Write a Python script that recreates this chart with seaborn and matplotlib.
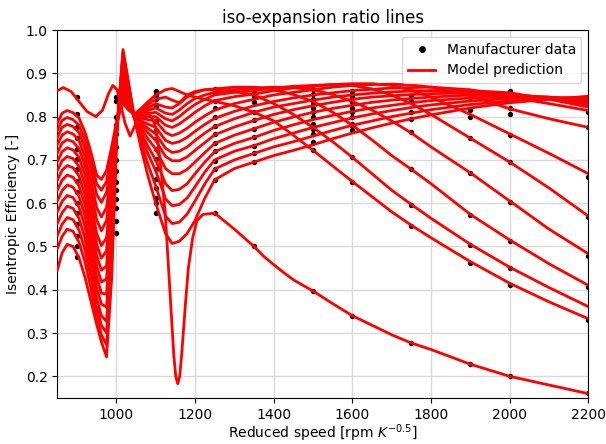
import numpy as np
import pandas as pd
import matplotlib
matplotlib.use("Agg")
import matplotlib.pyplot as plt
import seaborn as sns
from matplotlib.lines import Line2D

# ---------------- data ----------------
speed_left = [850, 862, 875, 890, 905, 920, 935, 950, 962, 975, 988, 1001, 1017, 1031, 1045, 1062, 1080]
speed_right = [1100, 1125, 1142, 1160, 1180, 1200, 1225, 1250, 1300, 1350, 1400, 1450, 1500, 1550, 1600, 1650,
               1700, 1750, 1800, 1900, 2000, 2100, 2200]

speed_r0 = [850, 865, 885, 905, 925, 948, 965, 980, 991, 1002, 1012, 1022, 1035, 1050, 1065, 1080, 1092, 1100, 1108,
            1115, 1124, 1132, 1140, 1146, 1151, 1156, 1161, 1166, 1175, 1183, 1194, 1205, 1220, 1250, 1300, 1350, 1375,
            1400, 1425, 1450, 1500, 1550, 1600, 1650, 1700, 1750, 1800, 1850, 1900, 1950, 2000, 2100, 2200]
eff_r0 = [0.860, 0.867, 0.858, 0.835, 0.812, 0.800, 0.815, 0.853, 0.872, 0.862, 0.825, 0.785, 0.755, 0.785, 0.805, 0.808,
          0.795, 0.775, 0.725, 0.665, 0.580, 0.460, 0.340, 0.250, 0.200, 0.183, 0.200, 0.250, 0.360, 0.450, 0.520, 0.560,
          0.574, 0.577, 0.540, 0.500, 0.477, 0.458, 0.440, 0.423, 0.397, 0.368, 0.340, 0.318, 0.296, 0.277, 0.262, 0.245,
          0.228, 0.214, 0.200, 0.180, 0.160]

eff_r1 = [0.785, 0.808, 0.814, 0.809, 0.797, 0.765, 0.720, 0.665, 0.655, 0.675, 0.730, 0.790, 0.830, 0.815, 0.805, 0.818, 0.834,
          0.850, 0.862, 0.865, 0.858, 0.850, 0.845, 0.840, 0.835, 0.825, 0.810, 0.790, 0.757, 0.722, 0.686, 0.650, 0.615,
          0.580, 0.549, 0.520, 0.465, 0.415, 0.372, 0.333]
eff_r2 = [0.768, 0.791, 0.798, 0.793, 0.780, 0.747, 0.700, 0.645, 0.630, 0.650, 0.715, 0.790, 0.840, 0.820, 0.804, 0.814, 0.827,
          0.840, 0.845, 0.838, 0.832, 0.850, 0.858, 0.862, 0.862, 0.858, 0.850, 0.830, 0.805, 0.775, 0.742, 0.706, 0.668,
          0.630, 0.597, 0.565, 0.505, 0.452, 0.405, 0.361]
eff_r3 = [0.752, 0.775, 0.782, 0.777, 0.763, 0.728, 0.680, 0.620, 0.602, 0.625, 0.700, 0.785, 0.850, 0.825, 0.803, 0.810, 0.820,
          0.830, 0.822, 0.820, 0.830, 0.845, 0.855, 0.862, 0.864, 0.868, 0.868, 0.862, 0.851, 0.835, 0.810, 0.780, 0.746,
          0.710, 0.678, 0.645, 0.574, 0.515, 0.460, 0.410]
eff_r4 = [0.735, 0.757, 0.765, 0.760, 0.745, 0.708, 0.655, 0.590, 0.568, 0.590, 0.680, 0.785, 0.860, 0.830, 0.802, 0.807, 0.814,
          0.820, 0.808, 0.805, 0.815, 0.830, 0.842, 0.850, 0.856, 0.862, 0.866, 0.868, 0.867, 0.862, 0.851, 0.835, 0.815,
          0.790, 0.762, 0.730, 0.670, 0.605, 0.540, 0.483]
eff_r5 = [0.716, 0.739, 0.747, 0.742, 0.726, 0.688, 0.630, 0.562, 0.536, 0.560, 0.660, 0.780, 0.870, 0.835, 0.801, 0.803, 0.807,
          0.810, 0.795, 0.790, 0.800, 0.815, 0.828, 0.840, 0.850, 0.856, 0.860, 0.866, 0.870, 0.872, 0.874, 0.872, 0.864,
          0.850, 0.830, 0.805, 0.750, 0.695, 0.635, 0.570]
eff_r6 = [0.696, 0.719, 0.728, 0.723, 0.706, 0.666, 0.605, 0.530, 0.502, 0.520, 0.640, 0.780, 0.880, 0.840, 0.800, 0.800, 0.800,
          0.800, 0.780, 0.775, 0.783, 0.796, 0.810, 0.825, 0.837, 0.846, 0.852, 0.860, 0.866, 0.870, 0.874, 0.876, 0.876,
          0.872, 0.861, 0.845, 0.805, 0.760, 0.715, 0.668]
eff_r7 = [0.675, 0.698, 0.708, 0.703, 0.685, 0.643, 0.580, 0.505, 0.473, 0.490, 0.620, 0.775, 0.890, 0.845, 0.800, 0.797, 0.793,
          0.790, 0.763, 0.756, 0.762, 0.773, 0.787, 0.802, 0.815, 0.830, 0.840, 0.850, 0.856, 0.862, 0.868, 0.872, 0.874,
          0.875, 0.873, 0.868, 0.848, 0.818, 0.795, 0.775]
eff_r8 = [0.653, 0.676, 0.687, 0.682, 0.663, 0.620, 0.556, 0.480, 0.445, 0.455, 0.600, 0.775, 0.900, 0.850, 0.800, 0.791, 0.783,
          0.775, 0.745, 0.738, 0.742, 0.752, 0.766, 0.782, 0.796, 0.812, 0.825, 0.835, 0.843, 0.850, 0.855, 0.860, 0.863,
          0.866, 0.867, 0.868, 0.862, 0.845, 0.830, 0.814]
eff_r9 = [0.630, 0.653, 0.665, 0.660, 0.640, 0.597, 0.530, 0.455, 0.418, 0.425, 0.575, 0.770, 0.910, 0.855, 0.800, 0.786, 0.773,
          0.760, 0.727, 0.717, 0.720, 0.730, 0.745, 0.762, 0.777, 0.795, 0.810, 0.822, 0.830, 0.838, 0.845, 0.850, 0.854,
          0.857, 0.859, 0.860, 0.860, 0.855, 0.840, 0.822]
eff_r10 = [0.605, 0.629, 0.642, 0.637, 0.616, 0.572, 0.505, 0.430, 0.392, 0.390, 0.550, 0.770, 0.920, 0.860, 0.800, 0.781, 0.763,
           0.745, 0.708, 0.698, 0.698, 0.707, 0.722, 0.740, 0.758, 0.776, 0.791, 0.805, 0.816, 0.825, 0.833, 0.840, 0.845,
           0.848, 0.851, 0.853, 0.855, 0.852, 0.842, 0.828]
eff_r11 = [0.580, 0.604, 0.618, 0.613, 0.591, 0.547, 0.480, 0.405, 0.367, 0.360, 0.525, 0.770, 0.930, 0.865, 0.800, 0.774, 0.749,
           0.725, 0.680, 0.668, 0.668, 0.678, 0.695, 0.717, 0.738, 0.757, 0.772, 0.787, 0.799, 0.810, 0.819, 0.826, 0.833,
           0.838, 0.842, 0.845, 0.850, 0.850, 0.845, 0.833]
eff_r12 = [0.553, 0.578, 0.593, 0.588, 0.565, 0.520, 0.455, 0.380, 0.340, 0.327, 0.500, 0.765, 0.940, 0.870, 0.800, 0.765, 0.732,
           0.700, 0.645, 0.629, 0.632, 0.645, 0.668, 0.695, 0.719, 0.738, 0.752, 0.768, 0.781, 0.793, 0.803, 0.812, 0.820,
           0.826, 0.832, 0.837, 0.843, 0.847, 0.845, 0.838]
eff_r13 = [0.525, 0.551, 0.567, 0.562, 0.538, 0.493, 0.430, 0.360, 0.318, 0.300, 0.475, 0.765, 0.945, 0.872, 0.800, 0.756, 0.715,
           0.675, 0.610, 0.594, 0.597, 0.612, 0.638, 0.672, 0.700, 0.720, 0.733, 0.749, 0.762, 0.775, 0.786, 0.797, 0.806,
           0.814, 0.821, 0.827, 0.836, 0.842, 0.844, 0.842]
eff_r14 = [0.495, 0.523, 0.540, 0.535, 0.510, 0.465, 0.405, 0.338, 0.296, 0.273, 0.450, 0.760, 0.950, 0.875, 0.800, 0.744, 0.691,
           0.640, 0.570, 0.553, 0.556, 0.575, 0.605, 0.645, 0.679, 0.700, 0.715, 0.730, 0.742, 0.755, 0.768, 0.780, 0.790,
           0.800, 0.808, 0.816, 0.828, 0.836, 0.842, 0.845]
eff_r15 = [0.445, 0.485, 0.505, 0.500, 0.474, 0.430, 0.375, 0.320, 0.280, 0.245, 0.425, 0.760, 0.955, 0.878, 0.800, 0.730, 0.664,
           0.600, 0.530, 0.507, 0.512, 0.530, 0.560, 0.612, 0.654, 0.680, 0.695, 0.710, 0.722, 0.735, 0.749, 0.762, 0.774,
           0.785, 0.795, 0.804, 0.820, 0.832, 0.840, 0.847]

# manufacturer data points
data_speeds = [900, 1000, 1100, 1250, 1350, 1500, 1600, 1750, 1900, 2000, 2200]
data_eff_900 = [0.845, 0.807, 0.775, 0.750, 0.726, 0.703, 0.680, 0.652, 0.625, 0.600, 0.578, 0.553, 0.525, 0.502, 0.475]
data_eff_1000 = [0.845, 0.835, 0.800, 0.780, 0.760, 0.730, 0.700, 0.675, 0.650, 0.630, 0.610, 0.590, 0.560, 0.530]
data_eff_1100 = [0.860, 0.855, 0.850, 0.840, 0.825, 0.790, 0.768, 0.749, 0.726, 0.703, 0.680, 0.657, 0.634, 0.611, 0.600, 0.578]
data_eff_1250 = [0.864, 0.856, 0.837, 0.821, 0.798, 0.779, 0.760, 0.738, 0.720, 0.698, 0.679, 0.654, 0.577]
data_eff_1350 = [0.856, 0.848, 0.833, 0.810, 0.791, 0.772, 0.752, 0.733, 0.715, 0.695, 0.500]
data_eff_1500 = [0.864, 0.852, 0.841, 0.832, 0.821, 0.810, 0.798, 0.783, 0.772, 0.760, 0.742, 0.722, 0.397]
data_eff_1600 = [0.860, 0.852, 0.845, 0.833, 0.821, 0.810, 0.798, 0.783, 0.779, 0.768, 0.706, 0.650, 0.340]
data_eff_1750 = [0.848, 0.837, 0.810, 0.795, 0.764, 0.679, 0.596, 0.547, 0.277]
data_eff_1900 = [0.856, 0.845, 0.815, 0.798, 0.750, 0.670, 0.573, 0.504, 0.462, 0.228]
data_eff_2000 = [0.860, 0.856, 0.821, 0.805, 0.758, 0.696, 0.602, 0.512, 0.450, 0.412, 0.200]
data_eff_2200 = [0.845, 0.829, 0.810, 0.775, 0.660, 0.567, 0.479, 0.407, 0.331, 0.161]

# ---------------- build tables ----------------
model_curves = [eff_r1, eff_r2, eff_r3, eff_r4, eff_r5, eff_r6, eff_r7, eff_r8,
                eff_r9, eff_r10, eff_r11, eff_r12, eff_r13, eff_r14, eff_r15]
grid = speed_left + speed_right
rows = []
for xv, yv in zip(speed_r0, eff_r0):
    rows.append(("r0", xv, yv))
for k, curve in enumerate(model_curves, start=1):
    for xv, yv in zip(grid, curve):
        rows.append((f"r{k}", xv, yv))
model_df = pd.DataFrame(rows, columns=["ratio", "speed", "eff"])

data_lists = [data_eff_900, data_eff_1000, data_eff_1100, data_eff_1250, data_eff_1350, data_eff_1500,
              data_eff_1600, data_eff_1750, data_eff_1900, data_eff_2000, data_eff_2200]
drows = []
for s, lst in zip(data_speeds, data_lists):
    for v in lst:
        drows.append((s, v))
data_df = pd.DataFrame(drows, columns=["speed", "eff"])

# ---------------- plot ----------------
plt.rcParams["font.family"] = ["DejaVu Sans"]
fig = plt.figure(figsize=(6.06, 4.44), dpi=100)
ax = fig.add_axes([0.0946, 0.1036, 0.8764, 0.8288])

sns.scatterplot(data=data_df, x="speed", y="eff", ax=ax, color="black", s=15,
                edgecolor="black", linewidth=0, zorder=2, legend=False)
sns.lineplot(data=model_df, x="speed", y="eff", units="ratio", estimator=None, sort=False,
             ax=ax, color="red", linewidth=2, zorder=3, legend=False)

ax.set_xlim(850, 2200)
ax.set_ylim(0.15, 1.0)
ax.set_xticks([1000, 1200, 1400, 1600, 1800, 2000, 2200])
ax.set_yticks([0.2, 0.3, 0.4, 0.5, 0.6, 0.7, 0.8, 0.9, 1.0])
ax.grid(True, color="#d9d9d9", linewidth=1.0)
ax.set_axisbelow(True)
ax.set_title("iso-expansion ratio lines", fontsize=12, pad=5)
ax.set_xlabel(r"Reduced speed [rpm $K^{-0.5}$]", fontsize=10, labelpad=0.5)
ax.set_ylabel("Isentropic Efficiency [-]", fontsize=10)
ax.tick_params(labelsize=10)

handles = [Line2D([0], [0], marker="o", color="black", linestyle="none", markersize=4),
           Line2D([0], [0], color="red", linewidth=2)]
ax.legend(handles, ["Manufacturer data", "Model prediction"], loc="upper right", fontsize=10)

fig.savefig("out.png", dpi=100)
